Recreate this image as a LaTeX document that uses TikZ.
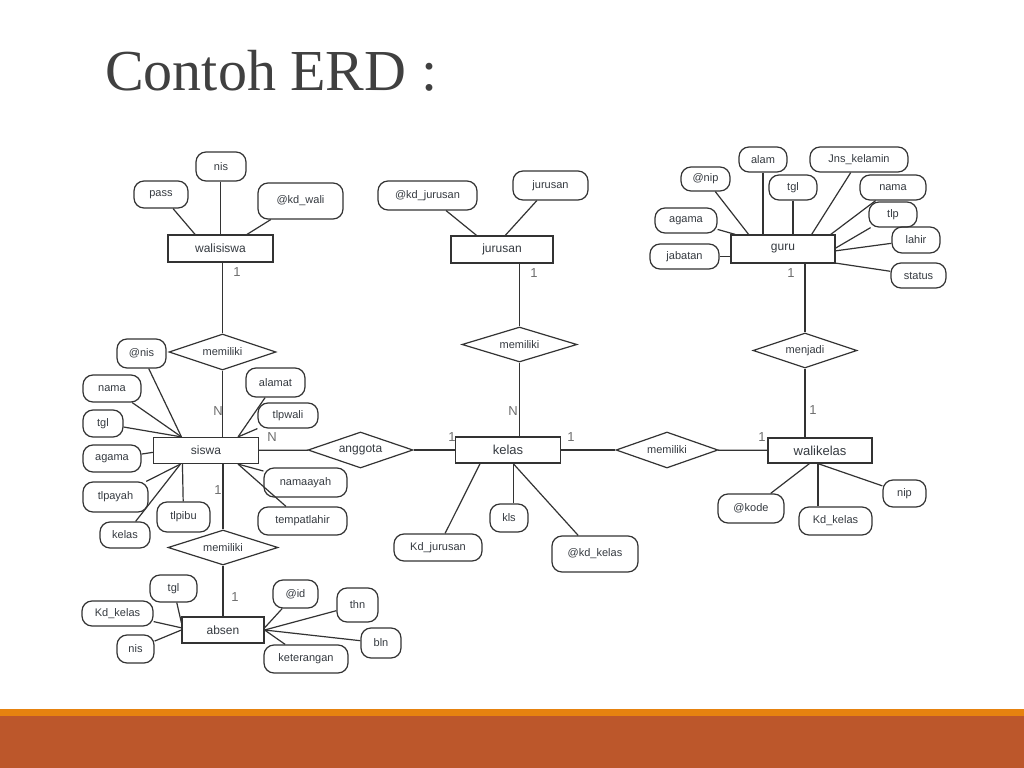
\documentclass[tikz,border=0pt]{standalone}
\usepackage{fontspec}
\setmainfont{Liberation Sans}
\newfontfamily\titlefont{Liberation Serif}
\usepackage{xcolor}
\usetikzlibrary{shapes.geometric}
\definecolor{TitleGray}{HTML}{404040}
\definecolor{LineGray}{HTML}{333333}
\definecolor{TextGray}{HTML}{353A40}
\definecolor{CardGray}{HTML}{6E6E6E}
\definecolor{BarOrange}{HTML}{E6820F}
\definecolor{BarRust}{HTML}{BC572B}
\tikzset{%Global config
	x=1bp, y=-1bp,
	line width=1.2bp,
	color=LineGray,
	%Styles
	WH/.style 2 args={minimum width=#1bp, minimum height=#2bp},
	Entity/.style={
		draw=LineGray,
		line width=1.2bp,
		inner sep=0pt,
		text=TextGray,
		font=\fontsize{12bp}{14bp}\selectfont,
	},
	Attr/.style={
		draw=LineGray,
		line width=1.2bp,
		rounded corners=10bp,
		inner sep=0pt,
		text=TextGray,
		font=\fontsize{11bp}{13bp}\selectfont,
	},
	Rel/.style={
		diamond,
		aspect=3,
		draw=LineGray,
		line width=1.2bp,
		inner sep=0pt,
		text=TextGray,
		font=\fontsize{11bp}{13bp}\selectfont,
	},
	Card/.style={
		inner sep=0pt,
		text=CardGray,
		font=\fontsize{13bp}{15bp}\selectfont,
	},
	Link/.style={
		draw=LineGray,
		line width=1.2bp,
	}
}
\begin{document}
\begin{tikzpicture}
	\useasboundingbox[fill=white] (0,0) rectangle (1024,768);
	% Title and footer bars
	\node[anchor=base west, inner sep=0pt, text=TitleGray, font=\titlefont\fontsize{58bp}{70bp}\selectfont] (title) at (105,91) {Contoh ERD :};
	\fill[BarOrange] (0,709) rectangle (1024,716);
	\fill[BarRust] (0,716) rectangle (1024,768);

	% Entities
	\node[Entity, WH={105}{27}] (walisiswa) at (220.5,248.5) {walisiswa};
	\node[Entity, WH={102}{27}] (jurusan) at (502,249.5) {jurusan};
	\node[Entity, WH={104}{28}] (guru) at (783,249) {guru};
	\node[Entity, WH={105}{26}] (siswa) at (206,450.5) {siswa};
	\node[Entity, WH={105}{26}, font=\fontsize{13bp}{15bp}\selectfont] (kelas) at (508,450) {kelas};
	\node[Entity, WH={104}{25}, font=\fontsize{13bp}{15bp}\selectfont] (walikelas) at (820,450.5) {walikelas};
	\node[Entity, WH={82}{26}] (absen) at (223,630) {absen};

	% Relations
	\node[Rel, WH={107}{36}] (relWS) at (222.5,352) {memiliki};
	\node[Rel, WH={110}{35}] (relSA) at (223,547.5) {memiliki};
	\node[Rel, WH={115}{35}] (relJK) at (519.5,344.5) {memiliki};
	\node[Rel, WH={104}{35}] (relGW) at (805,350.5) {menjadi};
	\node[Rel, WH={105}{36}, font=\fontsize{12bp}{14bp}\selectfont] (relSK) at (360.5,450) {anggota};
	\node[Rel, WH={102}{36}] (relKW) at (667,450) {memiliki};

	\draw[Link] (relWS |- walisiswa.south) -- (relWS);
	\draw[Link] (relWS) -- (relWS |- siswa.north);
	\draw[Link] (relSA |- siswa.south) -- (relSA);
	\draw[Link] (relSA) -- (relSA |- absen.north);
	\draw[Link] (relJK |- jurusan.south) -- (relJK);
	\draw[Link] (relJK) -- (relJK |- kelas.north);
	\draw[Link] (relGW |- guru.south) -- (relGW);
	\draw[Link] (relGW) -- (relGW |- walikelas.north);
	\draw[Link] (siswa) -- (relSK);
	\draw[Link] (relSK) -- (kelas);
	\draw[Link] (kelas) -- (relKW);
	\draw[Link] (relKW) -- (walikelas);

	% Cardinalities
	\node[Card] (cWS) at (237,272) {1};
	\node[Card] (cSW) at (218,411) {N};
	\node[Card] (cSA) at (218,490) {1};
	\node[Card] (cAS) at (235,597) {1};
	\node[Card] (cJK) at (534,273) {1};
	\node[Card] (cKJ) at (513,411) {N};
	\node[Card] (cGW) at (791,273) {1};
	\node[Card] (cWG) at (813,410) {1};
	\node[Card] (cSK) at (272,437) {N};
	\node[Card] (cKS) at (452,437) {1};
	\node[Card] (cKW) at (571,437) {1};
	\node[Card] (cWK) at (762,437) {1};

	% walisiswa attributes
	\node[Attr, WH={50}{29}] (wNis) at (221,166.5) {nis};
	\node[Attr, WH={54}{27}] (wPass) at (161,194.5) {pass};
	\node[Attr, WH={85}{36}] (wKd) at (300.5,201) {@kd\_wali};
	\draw[Link] (wNis.south -| walisiswa.north) -- (walisiswa.north);
	\draw[Link] (wPass) -- (walisiswa.151);
	\draw[Link] (wKd) -- (walisiswa.28);

	% jurusan attributes
	\node[Attr, WH={99}{29}] (jKd) at (427.5,195.5) {@kd\_jurusan};
	\node[Attr, WH={75}{29}] (jNama) at (550.5,185.5) {jurusan};
	\draw[Link] (jKd) -- (jurusan.151);
	\draw[Link] (jNama) -- (jurusan.77);

	% guru attributes
	\node[Attr, WH={48}{25}] (gAlam) at (763,159.5) {alam};
	\node[Attr, WH={98}{25}] (gJns) at (859,159.5) {Jns\_kelamin};
	\node[Attr, WH={49}{24}] (gNip) at (705.5,179) {@nip};
	\node[Attr, WH={48}{25}] (gTgl) at (793,187.5) {tgl};
	\node[Attr, WH={66}{25}] (gNama) at (893,187.5) {nama};
	\node[Attr, WH={48}{25}] (gTlp) at (893,214.5) {tlp};
	\node[Attr, WH={62}{25}] (gAgama) at (686,220.5) {agama};
	\node[Attr, WH={48}{26}] (gLahir) at (916,240) {lahir};
	\node[Attr, WH={69}{25}] (gJabatan) at (684.5,256.5) {jabatan};
	\node[Attr, WH={55}{25}] (gStatus) at (918.5,275.5) {status};
	\draw[Link] (gAlam) -- (gAlam |- guru.north);
	\draw[Link] (gJns) -- (guru.27);
	\draw[Link] (gNip) -- (guru.157);
	\draw[Link] (gTgl) -- (gTgl |- guru.north);
	\draw[Link] (gNama) -- (guru.17);
	\draw[Link] (gTlp) -- (guru.1);
	\draw[Link] (gAgama) -- (guru.163);
	\draw[Link] (gLahir) -- (guru.-2);
	\draw[Link] (gJabatan) -- (gJabatan -| guru.west);
	\draw[Link] (gStatus) -- (guru.-15);

	% siswa attributes
	\node[Attr, WH={49}{29}] (sNis) at (141.5,353.5) {@nis};
	\node[Attr, WH={58}{27}] (sNama) at (112,388.5) {nama};
	\node[Attr, WH={40}{27}] (sTgl) at (103,423.5) {tgl};
	\node[Attr, WH={58}{27}] (sAgama) at (112,458.5) {agama};
	\node[Attr, WH={65}{30}] (sTlpAyah) at (115.5,497) {tlpayah};
	\node[Attr, WH={50}{26}] (sKelas) at (125,535) {kelas};
	\node[Attr, WH={53}{30}] (sTlpIbu) at (183.5,517) {tlpibu};
	\node[Attr, WH={59}{29}] (sAlamat) at (275.5,382.5) {alamat};
	\node[Attr, WH={60}{25}] (sTlpWali) at (288,415.5) {tlpwali};
	\node[Attr, WH={83}{29}] (sAyah) at (305.5,482.5) {namaayah};
	\node[Attr, WH={89}{28}] (sLahir) at (302.5,521) {tempatlahir};
	\draw[Link] (sNis) -- (siswa.151.5);
	\draw[Link] (sNama) -- (siswa.151.5);
	\draw[Link] (sTgl) -- (siswa.151.5);
	\draw[Link] (sAgama) -- (siswa.182);
	\draw[Link] (sTlpAyah) -- (siswa.208.5);
	\draw[Link] (sKelas) -- (siswa.208.5);
	\draw[Link] (sTlpIbu) -- (siswa.210.8);
	\draw[Link] (sAlamat) -- (siswa.23.3);
	\draw[Link] (sTlpWali) -- (siswa.23.3);
	\draw[Link] (sAyah) -- (siswa.-23.3);
	\draw[Link] (sLahir) -- (siswa.-23.3);

	% kelas attributes
	\node[Attr, WH={88}{27}] (kJur) at (438,547.5) {Kd\_jurusan};
	\node[Attr, WH={38}{28}] (kKls) at (509,518) {kls};
	\node[Attr, WH={86}{36}] (kKd) at (595,554) {@kd\_kelas};
	\draw[Link] (kJur) -- (kelas.206.6);
	\draw[Link] (kKls.north -| kelas.291) -- (kelas.291);
	\draw[Link] (kKd) -- (kelas.291);

	% walikelas attributes
	\node[Attr, WH={66}{29}] (wkKode) at (751,508.5) {@kode};
	\node[Attr, WH={73}{28}] (wkKelas) at (835.5,521) {Kd\_kelas};
	\node[Attr, WH={43}{27}] (wkNip) at (904.5,493.5) {nip};
	\draw[Link] (wkKode) -- (walikelas.231);
	\draw[Link] (wkKelas.north -| walikelas.261) -- (walikelas.261);
	\draw[Link] (wkNip) -- (walikelas.261);

	% absen attributes
	\node[Attr, WH={47}{27}] (aTgl) at (173.5,588.5) {tgl};
	\node[Attr, WH={71}{25}] (aKelas) at (117.5,613.5) {Kd\_kelas};
	\node[Attr, WH={37}{28}] (aNis) at (135.5,649) {nis};
	\node[Attr, WH={45}{28}] (aId) at (295.5,594) {@id};
	\node[Attr, WH={41}{34}] (aThn) at (357.5,605) {thn};
	\node[Attr, WH={40}{30}] (aBln) at (381,643) {bln};
	\node[Attr, WH={84}{28}] (aKet) at (306,659) {keterangan};
	\draw[Link] (aTgl) -- (absen.170);
	\draw[Link] (aKelas) -- (absen.177);
	\draw[Link] (aNis) -- (absen.west);
	\draw[Link] (aId) -- (absen.3);
	\draw[Link] (aThn) -- (absen.east);
	\draw[Link] (aBln) -- (absen.east);
	\draw[Link] (aKet) -- (absen.east);
\end{tikzpicture}
\end{document}
